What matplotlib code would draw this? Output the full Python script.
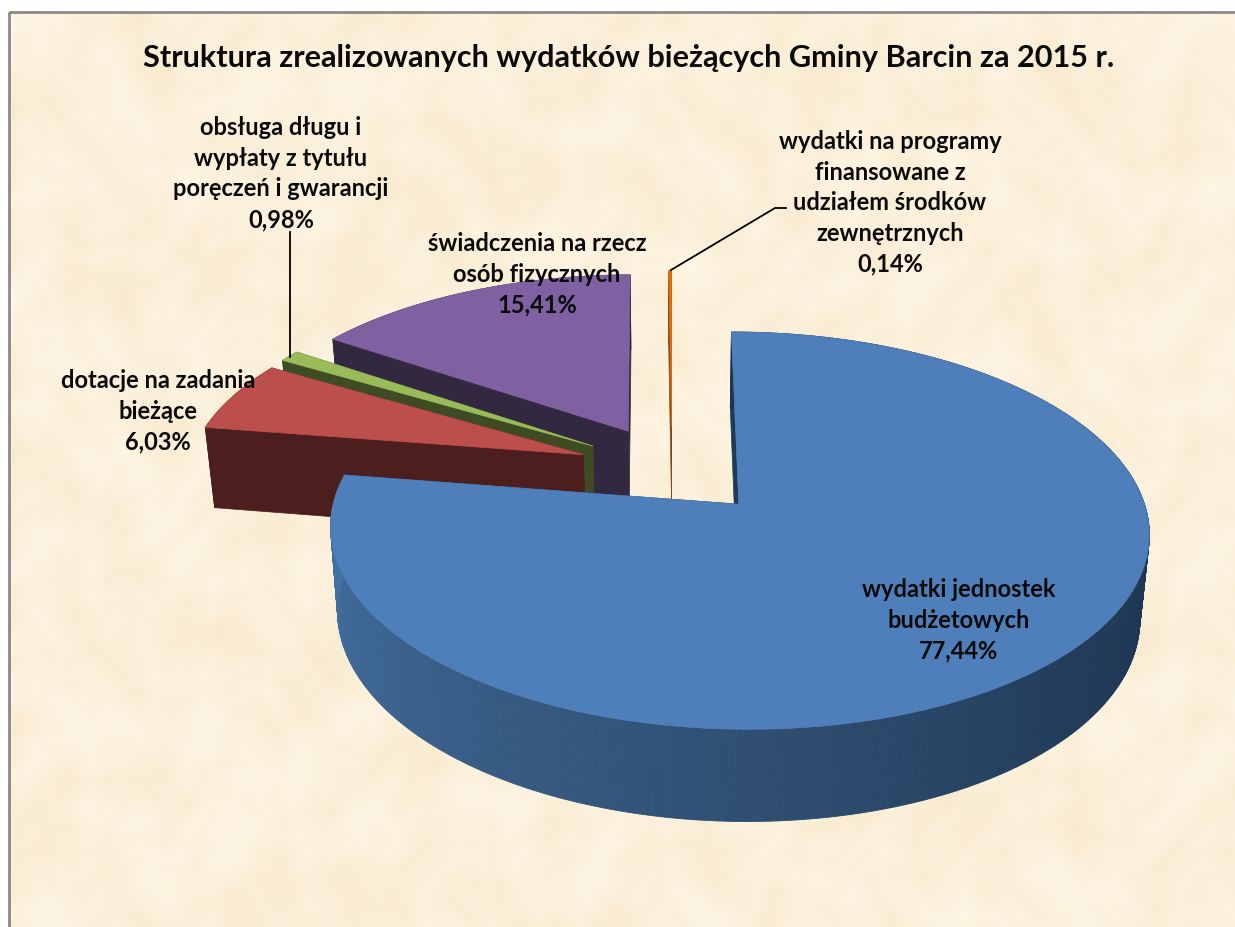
import numpy as np
import matplotlib
matplotlib.use("Agg")
import matplotlib.pyplot as plt
from matplotlib.patches import Polygon, Rectangle
from matplotlib.collections import PolyCollection
from matplotlib.colors import to_rgb

plt.rcParams['font.family'] = ['Lato', 'DejaVu Sans']

title = "Struktura zrealizowanych wydatków bieżących Gminy Barcin za 2015 r."
# clockwise from 12 o'clock
shares = [77.44, 6.03, 0.98, 15.41, 0.14]
share_labels = ["77,44%", "6,03%", "0,98%", "15,41%", "0,14%"]
names = ["wydatki jednostek\nbudżetowych",
         "dotacje na zadania\nbieżące",
         "obsługa długu i\nwypłaty z tytułu\nporęczeń i gwarancji",
         "świadczenia na rzecz\nosób fizycznych",
         "wydatki na programy\nfinansowane z\nudziałem środków\nzewnętrznych"]
top_colors = ["#4F7FBA", "#BC4F4C", "#9ABB59", "#7F60A0", "#E46C0A"]
side_colors = ["#1F3A57", "#4C1E1E", "#3F4B22", "#32283F", "#7A4A1C"]
# centre x and first baseline of each label
label_pos = [(959, 597), (158, 388), (281, 135), (537, 251), (890, 149)]
LINE_STEP = 30.7
x_nudge = [3.5, 0, 0, 0, 0]

# perspective of the pie, in pixels
OX, OY = 672, 470.5
A, B, K = 396, 186, 0.13
H = 82
EXPLODE = 0.24


def project(x, y, z=0.0):
    w = 1 + K * y
    # the lower rim sits a little further from the camera
    return OX + A * x / w * (1 - 0.02 * z), OY - B * y / w + z * H / w ** 0.7


def wedge_pts(a0, a1, n=120):
    mid = np.radians((a0 + a1) / 2)
    ex, ey = EXPLODE * np.sin(mid), EXPLODE * np.cos(mid)
    t = np.radians(np.linspace(a0, a1, n))
    return ex, ey, ex + np.sin(t), ey + np.cos(t)


fig = plt.figure(figsize=(12.35, 9.28), dpi=100, facecolor="white")
ax = fig.add_axes([0, 0, 1, 1])
ax.axis("off")

# parchment background, soft blotches
xx, yy = np.meshgrid(np.arange(9, 1235, 2), np.arange(13, 928, 2))
tex = (np.sin(xx / 37 + 1.3 * np.sin(yy / 61)) * np.sin(yy / 29 + 1.7 * np.sin(xx / 47))
       + 0.8 * np.sin(xx / 19 + 2.5 * np.sin(yy / 43)) * np.sin(yy / 23 + 2.5 * np.sin(xx / 31))
       + 0.5 * np.sin(xx / 11 + 3 * np.sin(yy / 27)) * np.sin(yy / 9 + 3 * np.sin(xx / 17)))
tex = tex / np.abs(tex).max()
base = np.array([251, 240, 218]) / 255
spread = np.array([3, 6, 12]) / 255
img = np.clip(base[None, None, :] + tex[:, :, None] * spread[None, None, :], 0, 1)
ax.imshow(img, extent=(9, 1235, 928, 13), aspect="auto", zorder=0, interpolation="bilinear")
ax.set_xlim(0, 1235)
ax.set_ylim(928, 0)
ax.add_patch(Rectangle((9, 13), 1240, 930, fill=False, ec="#8A8A8A", lw=2, zorder=1))

# angular range of each slice
edges = np.concatenate([[0], np.cumsum(shares) / np.sum(shares) * 360])

# back slices first, the big one last
z = 2
for i in [4, 3, 2, 1, 0]:
    a0, a1 = edges[i], edges[i + 1]
    ex, ey, xs, ys = wedge_pts(a0, a1)
    nudge = x_nudge[i]
    ax_top, ay_top = project(ex, ey)
    ax_bot, ay_bot = project(ex, ey, 1)
    apex_top = (ax_top + nudge, ay_top)
    apex_bot = (ax_bot + nudge, ay_bot)
    tx, ty = project(xs, ys)
    bx, by = project(xs, ys, 1)
    tx = tx + nudge
    bx = bx + nudge

    # cut faces
    for j in (0, -1):
        ax.add_patch(Polygon([apex_top, (tx[j], ty[j]), (bx[j], by[j]), apex_bot],
                             fc=side_colors[i], ec=side_colors[i], lw=0.5, zorder=z))
    # outer wall
    if i == 0:
        stops = np.array([90, 130, 180, 230, 279])
        cols = np.array([to_rgb(c) for c in ["#1D3551", "#213B59", "#2F4F72", "#3A618C", "#4674A8"]])
        ang = np.linspace(a0, a1, 600)
        t = np.radians(ang)
        wx, wy = ex + np.sin(t), ey + np.cos(t)
        wtx, wty = project(wx, wy)
        wbx, wby = project(wx, wy, 1)
        wtx = wtx + nudge
        wbx = wbx + nudge
        face = np.column_stack([np.interp(ang, stops, cols[:, c]) for c in range(3)])
        quads = [[(wtx[k], wty[k]), (wtx[k + 1], wty[k + 1]), (wbx[k + 1], wby[k + 1]), (wbx[k], wby[k])]
                 for k in range(len(ang) - 1)]
        ax.add_collection(PolyCollection(quads, facecolors=face[:-1], edgecolors=face[:-1], lw=0.6, zorder=z))
    else:
        ax.add_patch(Polygon(np.column_stack([np.r_[tx, bx[::-1]], np.r_[ty, by[::-1]]]),
                             fc=side_colors[i], ec=side_colors[i], lw=0.5, zorder=z))
    # top face
    ax.add_patch(Polygon(np.vstack([apex_top, np.column_stack([tx, ty])]),
                         fc=top_colors[i], ec=top_colors[i], lw=0.5, zorder=z + 1))
    z += 2

# leader lines
ax.plot([290, 290], [233, 358], color="black", lw=1.3, zorder=30)
ax.plot([671, 775, 786], [271, 209, 209], color="black", lw=1.3, zorder=30)

ax.text(629, 58.5, title, ha="center", va="center", fontsize=22.1, fontweight="bold", color="#0A0A0A", zorder=40)
# one text per line, matplotlib's own line spacing jumps around with the glyph heights
for i in range(len(shares)):
    lines = names[i].split("\n") + [share_labels[i]]
    for n, line in enumerate(lines):
        ax.text(label_pos[i][0], label_pos[i][1] + n * LINE_STEP, line, ha="center", va="baseline",
                fontsize=17, fontweight="bold", color="#0A0A0A", zorder=40)

fig.savefig("out.png", dpi=100)
